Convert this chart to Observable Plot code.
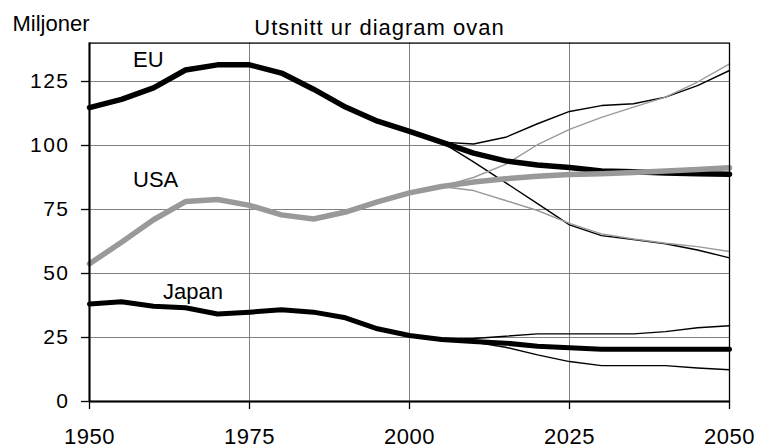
<!DOCTYPE html>
<html>
<head>
<meta charset="utf-8">
<script src="https://cdn.jsdelivr.net/npm/d3@7"></script>
<script src="https://cdn.jsdelivr.net/npm/@observablehq/plot@0.6"></script>
<style>
  html, body { margin: 0; padding: 0; background: #fff; }
  svg { display: block; }
  g[aria-label="y-axis tick label"] { letter-spacing: 1.5px; }
  g[aria-label="x-axis tick label"] { letter-spacing: 0.5px; }
  .ttl { letter-spacing: 1px; }
</style>
</head>
<body>
<div id="chart"></div>
<script>
// Years
const yearsAll = [1950,1955,1960,1965,1970,1975,1980,1985,1990,1995,2000,2005,2010,2015,2020,2025,2030,2035,2040,2045,2050];
const yearsProj = [2005,2010,2015,2020,2025,2030,2035,2040,2045,2050];

// Main series (millions)
const euMain    = [114.8,118,122.5,129.5,131.5,131.5,128.3,122,115,109.5,105.5,101.3,97,94,92.4,91.4,90,89.7,89.3,89,88.8];
const usaMain   = [53.8,62.2,71,78.1,78.9,76.6,72.9,71.3,74,78,81.5,84,85.7,87,88,88.7,89,89.5,90,90.6,91.3];
const japanMain = [38.1,39,37.2,36.6,34.2,34.9,35.8,34.9,32.7,28.4,25.8,24.2,23.4,22.8,21.6,21,20.4,20.4,20.4,20.4,20.4];

// Alternative projections
const euHigh    = [101.3,100.6,103.2,108.5,113.3,115.6,116.3,118.9,123.4,129.3];
const euLow     = [101.3,93.6,85.5,77.3,69,64.8,63.3,61.6,59.2,56.1];
const usaHigh   = [84,87.5,92.6,100.3,106.3,111,115,118.9,124.8,131.9];
const usaLow    = [84,82.4,78.5,74.6,69.6,65.5,63.5,61.8,60.5,58.6];
const japanHigh = [24.2,24.6,25.5,26.4,26.4,26.4,26.4,27.3,28.8,29.6];
const japanLow  = [24.2,23.2,21.2,18.2,15.6,14,14,14,13.1,12.4];

// Labels
const seriesLabels = ["EU", "USA", "Japan"];
const yTicks = [0,25,50,75,100,125];
const xTicks = [1950,1975,2000,2025,2050];
const titleText = "Utsnitt ur diagram ovan";
const unitText = "Miljoner";

const toRows = (name, years, vals) => years.map((y, i) => ({series: name, year: y, value: vals[i]}));

const thinBlack = [
  ...toRows("EU hög", yearsProj, euHigh),
  ...toRows("EU låg", yearsProj, euLow),
  ...toRows("Japan hög", yearsProj, japanHigh),
  ...toRows("Japan låg", yearsProj, japanLow)
];
const thinGray = [
  ...toRows("USA hög", yearsProj, usaHigh),
  ...toRows("USA låg", yearsProj, usaLow)
];
const euRows = toRows("EU", yearsAll, euMain);
const usaRows = toRows("USA", yearsAll, usaMain);
const japanRows = toRows("Japan", yearsAll, japanMain);

// label anchors (data coordinates)
const labelRows = [
  {text: seriesLabels[0], year: 1956.8, value: 130.6},
  {text: seriesLabels[1], year: 1956.8, value: 83.7},
  {text: seriesLabels[2], year: 1961.5, value: 40.1}
];

const FONT = "'Liberation Sans', Arial, Helvetica, sans-serif";

const plot = Plot.plot({
  width: 758,
  height: 448,
  marginTop: 42.6,
  marginRight: 29,
  marginBottom: 47,
  marginLeft: 89,
  style: {fontFamily: FONT, fontSize: "22px", color: "#000", background: "#fff"},
  x: {domain: [1950, 2050]},
  y: {domain: [0, 140]},
  marks: [
    Plot.gridY(yTicks.filter(d => d > 0), {stroke: "#808080", strokeOpacity: 1, strokeWidth: 1}),
    Plot.gridX(xTicks.filter(d => d > 1950 && d < 2050), {stroke: "#808080", strokeOpacity: 1, strokeWidth: 1}),
    Plot.line(thinBlack, {x: "year", y: "value", z: "series", stroke: "#000", strokeWidth: 1.4, strokeLinejoin: "round"}),
    Plot.line(thinGray, {x: "year", y: "value", z: "series", stroke: "#999", strokeWidth: 1.4, strokeLinejoin: "round"}),
    Plot.line(euRows, {x: "year", y: "value", stroke: "#000", strokeWidth: 5.5, strokeLinejoin: "round"}),
    Plot.line(japanRows, {x: "year", y: "value", stroke: "#000", strokeWidth: 5, strokeLinejoin: "round"}),
    Plot.line(usaRows, {x: "year", y: "value", stroke: "#999", strokeWidth: 5.5, strokeLinejoin: "round"}),
    Plot.frame({stroke: "#000", strokeWidth: 1.3}),
    Plot.ruleX([1950], {stroke: "#000", strokeWidth: 2}),
    Plot.ruleY([0], {stroke: "#000", strokeWidth: 2}),
    Plot.axisY({ticks: yTicks, tickSize: 8, tickPadding: 12, fontSize: 21, stroke: "#000", strokeWidth: 1.3, fill: "#000", label: null}),
    Plot.axisX({ticks: xTicks, tickSize: 8, tickPadding: 19, fontSize: 22, tickFormat: d => String(d), stroke: "#000", strokeWidth: 1.3, fill: "#000", label: null}),
    Plot.text(labelRows, {x: "year", y: "value", text: "text", textAnchor: "start", lineAnchor: "bottom", fontSize: 22, fill: "#000"}),
    Plot.text([titleText], {frameAnchor: "top", dx: -30, dy: -8, lineAnchor: "bottom", fontSize: 22, fill: "#000", className: "ttl"}),
    Plot.text([unitText], {frameAnchor: "top-left", textAnchor: "start", dx: -77, dy: -12, lineAnchor: "bottom", fontSize: 22, fill: "#000"})
  ]
});
document.getElementById("chart").appendChild(plot);
</script>
</body>
</html>
